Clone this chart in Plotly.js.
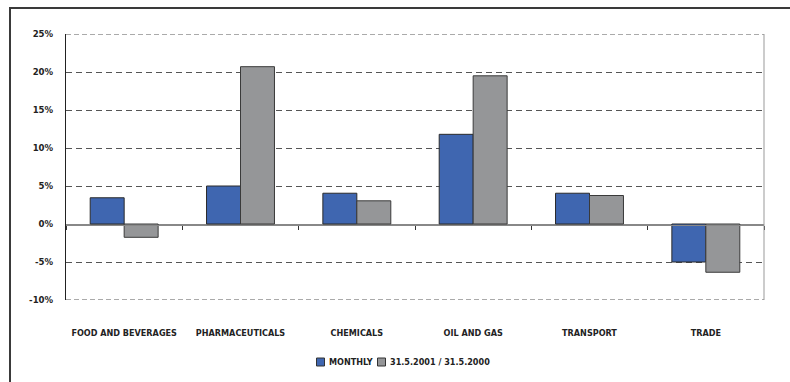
<!DOCTYPE html>
<html>
<head>
<meta charset="utf-8">
<script src="https://cdn.plot.ly/plotly-3.0.1.min.js"></script>
<style>
  html, body { margin: 0; padding: 0; background: #fff; }
  #wrap { position: relative; width: 790px; height: 382px; overflow: hidden; }
  #chart { position: absolute; left: 0; top: 0; width: 790px; height: 382px; }
  #frame { position: absolute; left: 9px; top: 7px; width: 800px; height: 400px;
           border-top: 2px solid #3a3a3a; border-left: 2px solid #3a3a3a; pointer-events: none; }
</style>
</head>
<body>
<div id="wrap">
  <div id="chart"></div>
  <div id="frame"></div>
</div>
<script>
const categories = ["FOOD AND BEVERAGES", "PHARMACEUTICALS", "CHEMICALS", "OIL AND GAS", "TRANSPORT", "TRADE"];
const monthly = [3.45, 5.0, 4.05, 11.8, 4.05, -5.0];
const annual = [-1.75, 20.7, 3.05, 19.5, 3.75, -6.35];
const seriesNames = ["MONTHLY", "31.5.2001 / 31.5.2000"];
const seriesColors = ["#3F66B0", "#959698"];
const yTickVals = [-10, -5, 0, 5, 10, 15, 20, 25];
const yTickText = yTickVals.map(v => v + "%");

const FONT = "'DejaVu Sans Condensed', 'Liberation Sans Narrow', sans-serif";

const traces = [
  { type: "bar", x: categories, y: monthly, name: seriesNames[0],
    marker: { color: seriesColors[0], line: { color: "#2a2a2a", width: 1 } } },
  { type: "bar", x: categories, y: annual, name: seriesNames[1],
    marker: { color: seriesColors[1], line: { color: "#3a3a3a", width: 1 } } },
  { type: "scatter", x: categories, y: categories.map(() => 0), xaxis: "x2", yaxis: "y",
    mode: "none", showlegend: false, hoverinfo: "skip" }
];

// plot area in pixels: left 66, right 764, top 34, bottom 300
const PL = 66, PR = 764, PT = 34, PB = 300;
const px = v => (v - PL) / (PR - PL);
const py = v => (PB - v) / (PB - PT);

// custom legend (square swatch + label), built from series arrays
const legendX = [316.5, 377.5];
const legendShapes = seriesNames.map((n, i) => ({
  type: "rect", xref: "paper", yref: "paper",
  x0: px(legendX[i]), x1: px(legendX[i] + 8), y0: py(366), y1: py(358),
  fillcolor: seriesColors[i], line: { color: "#333", width: 1 }
}));
const legendAnns = seriesNames.map((n, i) => ({
  xref: "paper", yref: "paper", x: px(legendX[i] + 10), y: py(362),
  xanchor: "left", yanchor: "middle", showarrow: false, text: n,
  font: { family: FONT, size: 9, weight: "bold", color: "#222" }
}));

const layout = {
  width: 790, height: 382,
  margin: { l: PL, r: 790 - PR, t: PT, b: 382 - PB, autoexpand: false },
  paper_bgcolor: "rgba(0,0,0,0)", plot_bgcolor: "#fff",
  font: { family: FONT, size: 9, color: "#222" },
  barmode: "group", bargap: 0.416, bargroupgap: 0,
  showlegend: false,
  xaxis: { type: "category", categoryorder: "array", categoryarray: categories,
           range: [-0.5, 5.5], ticks: "", showline: false, showgrid: false, zeroline: false,
           tickfont: { family: FONT, size: 9, weight: "bold", color: "#222" },
           ticklabelstandoff: 26 },
  xaxis2: { type: "category", overlaying: "x", matches: "x", anchor: "free", position: (PB - 224.5) / (PB - PT),
            categoryorder: "array", categoryarray: categories,
            ticks: "outside", tickson: "boundaries", ticklen: 4, tickcolor: "#333", tickwidth: 1,
            showticklabels: false, showline: true, linecolor: "#888", linewidth: 1, showgrid: false, zeroline: false },
  yaxis: { range: [-10, 25], tickvals: yTickVals, ticktext: yTickText,
           showgrid: true, gridcolor: "#555", griddash: "6px,4px", gridwidth: 1,
           zeroline: true, zerolinecolor: "#888", zerolinewidth: 1,
           showline: true, linecolor: "#222", linewidth: 1, ticks: "",
           ticklabelstandoff: 10,
           tickfont: { family: FONT, size: 9.5, weight: "bold", color: "#222" } },
  shapes: [
    { type: "line", xref: "paper", yref: "y", x0: 0, x1: 1, y0: 25, y1: 25,
      line: { color: "#aaa", width: 2, dash: "5px,3px" } },
    { type: "line", xref: "paper", yref: "y", x0: 0, x1: 1, y0: -10, y1: -10,
      line: { color: "#aaa", width: 2, dash: "5px,3px" } },
    { type: "line", xref: "paper", yref: "paper", x0: 1, x1: 1, y0: 0, y1: 1,
      line: { color: "#999", width: 1 } }
  ].concat(legendShapes),
  annotations: legendAnns
};

Plotly.newPlot("chart", traces, layout, { staticPlot: true, displayModeBar: false });
</script>
</body>
</html>
